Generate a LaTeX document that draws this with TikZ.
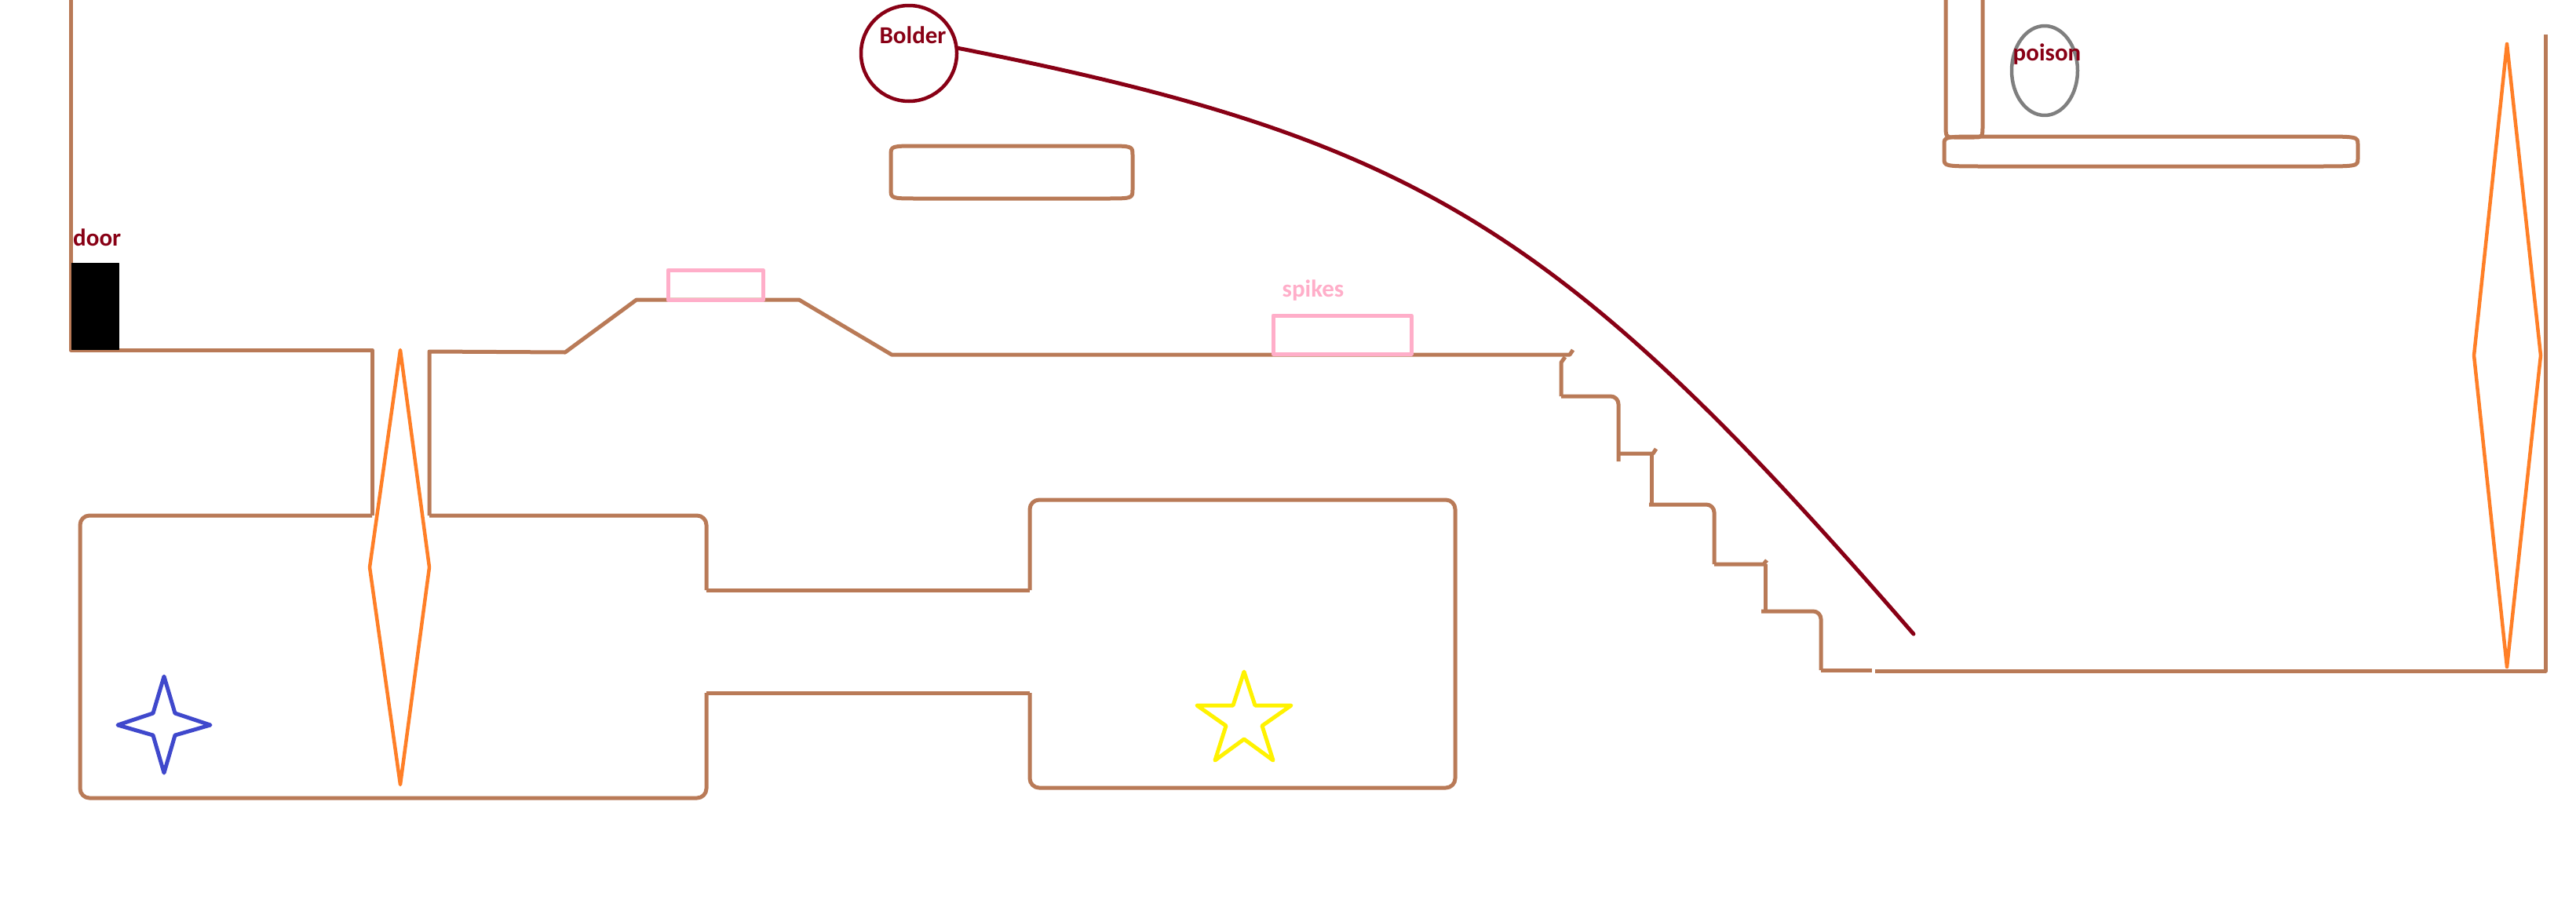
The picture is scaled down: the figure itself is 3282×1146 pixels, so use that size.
\documentclass[tikz,border=0pt]{standalone}
\usepackage{fontspec}
\setmainfont{Carlito}
\definecolor{wallbrown}{HTML}{B97A57}
\definecolor{bolderred}{HTML}{880015}
\definecolor{traporange}{HTML}{FF7F27}
\definecolor{spikepink}{HTML}{FFAEC9}
\definecolor{starblue}{HTML}{3F48CC}
\definecolor{staryellow}{HTML}{FFF200}
\definecolor{poisongray}{HTML}{7F7F7F}
\begin{document}
\begin{tikzpicture}[x=1pt,y=-1pt,line join=round,
  wall/.style={color=wallbrown,line width=5pt},
  trap/.style={color=traporange,line width=4.5pt},
  spikebox/.style={color=spikepink,line width=5pt},
  rollpath/.style={color=bolderred,line width=5pt,line cap=round},
  bolderball/.style={circle,draw=bolderred,line width=4.5pt,minimum size=122pt,inner sep=0pt},
  maplabel/.style={text=bolderred,font=\bfseries\fontsize{31}{36}\selectfont,inner sep=0pt}]
\fill[white] (0,0) rectangle (3282,1146);
\useasboundingbox (0,0) rectangle (3282,1146);

\draw[wall] (90,0) -- (90,446) -- (474,446) -- (474,657);
\draw[wall] (547,657) -- (547,448) -- (720,449) -- (811,382) -- (1018,382) -- (1136,452) -- (2000,452) -- (2004,446);
\filldraw[black] (91,335) rectangle (151,445);
\node[maplabel,anchor=base west] (doortext) at (93,313) {door};

\draw[wall,rounded corners=12pt] (474,657) -- (102,657) -- (102,1017) -- (900,1017) -- (900,883);
\draw[wall,rounded corners=12pt] (547,657) -- (900,657) -- (900,752);
\draw[wall] (900,752) -- (1312,752);
\draw[wall] (900,883) -- (1312,883);
\draw[wall,rounded corners=12pt] (1312,752) -- (1312,637) -- (1854,637) -- (1854,1004) -- (1312,1004) -- (1312,883);

\draw[wall] (1994,455) -- (1989,462) -- (1989,505);
\draw[wall,rounded corners=10pt] (1989,505) -- (2062,505) -- (2062,588);
\draw[wall] (2062,578) -- (2106,578) -- (2110,572);
\draw[wall] (2104,578) -- (2104,643);
\draw[wall,rounded corners=10pt] (2101,643) -- (2184,643) -- (2184,719);
\draw[wall] (2184,719) -- (2247,719) -- (2251,714);
\draw[wall] (2249,719) -- (2249,779);
\draw[wall,rounded corners=10pt] (2244,779) -- (2320,779) -- (2320,854);
\draw[wall] (2320,854) -- (2385,854);
\draw[wall] (2389,855) -- (3243,855) -- (3243,44);

\draw[wall] (1135,198) .. controls (1135,186) .. (1170,186) -- (1408,186) .. controls (1443,186) .. (1443,198) -- (1443,241) .. controls (1443,253) .. (1408,253) -- (1170,253) .. controls (1135,253) .. (1135,241) -- cycle;
\draw[wall] (2479,0) -- (2479,158) .. controls (2479,175) .. (2490,175) -- (2515,175) .. controls (2526,175) .. (2526,158) -- (2526,0);
\draw[wall] (2477,184) .. controls (2477,174) .. (2530,174) -- (2950,174) .. controls (3004,174) .. (3004,184) -- (3004,202) .. controls (3004,212) .. (2950,212) -- (2530,212) .. controls (2477,212) .. (2477,202) -- cycle;

\draw[spikebox] (851,344) rectangle (972,382);
\draw[spikebox] (1622,402) rectangle (1798,451);
\node[maplabel,text=spikepink,anchor=base] (spiketext) at (1673,378) {spikes};

\node[bolderball] (bolder) at (1158,68) {};
\node[maplabel,anchor=base] (boldertext) at (1163,55) {Bolder};
\coordinate (rollend) at (2438,808);
\draw[rollpath] (bolder.6) .. controls (1805,177) and (1988,289) .. (rollend);

\draw[color=poisongray,line width=4.5pt] (2605,90) ellipse [x radius=42pt,y radius=57pt];
\node[maplabel,anchor=base] (poisontext) at (2608,77) {poison};

\draw[trap] (510,446) -- (547,723) -- (510,1000) -- (471,723) -- cycle;
\draw[trap] (3194,56) -- (3237,453) -- (3194,850) -- (3152,453) -- cycle;

\draw[color=starblue,line width=5pt] (209,862) -- (223,909) -- (268,924) -- (223,937) -- (209,985) -- (195,937) -- (150,924) -- (195,909) -- cycle;
\draw[color=staryellow,line width=5pt] (1585,856) -- (1599,899) -- (1645,899) -- (1608,925) -- (1622,969) -- (1585,942) -- (1548,969) -- (1562,925) -- (1525,899) -- (1571,899) -- cycle;
\end{tikzpicture}
\end{document}
